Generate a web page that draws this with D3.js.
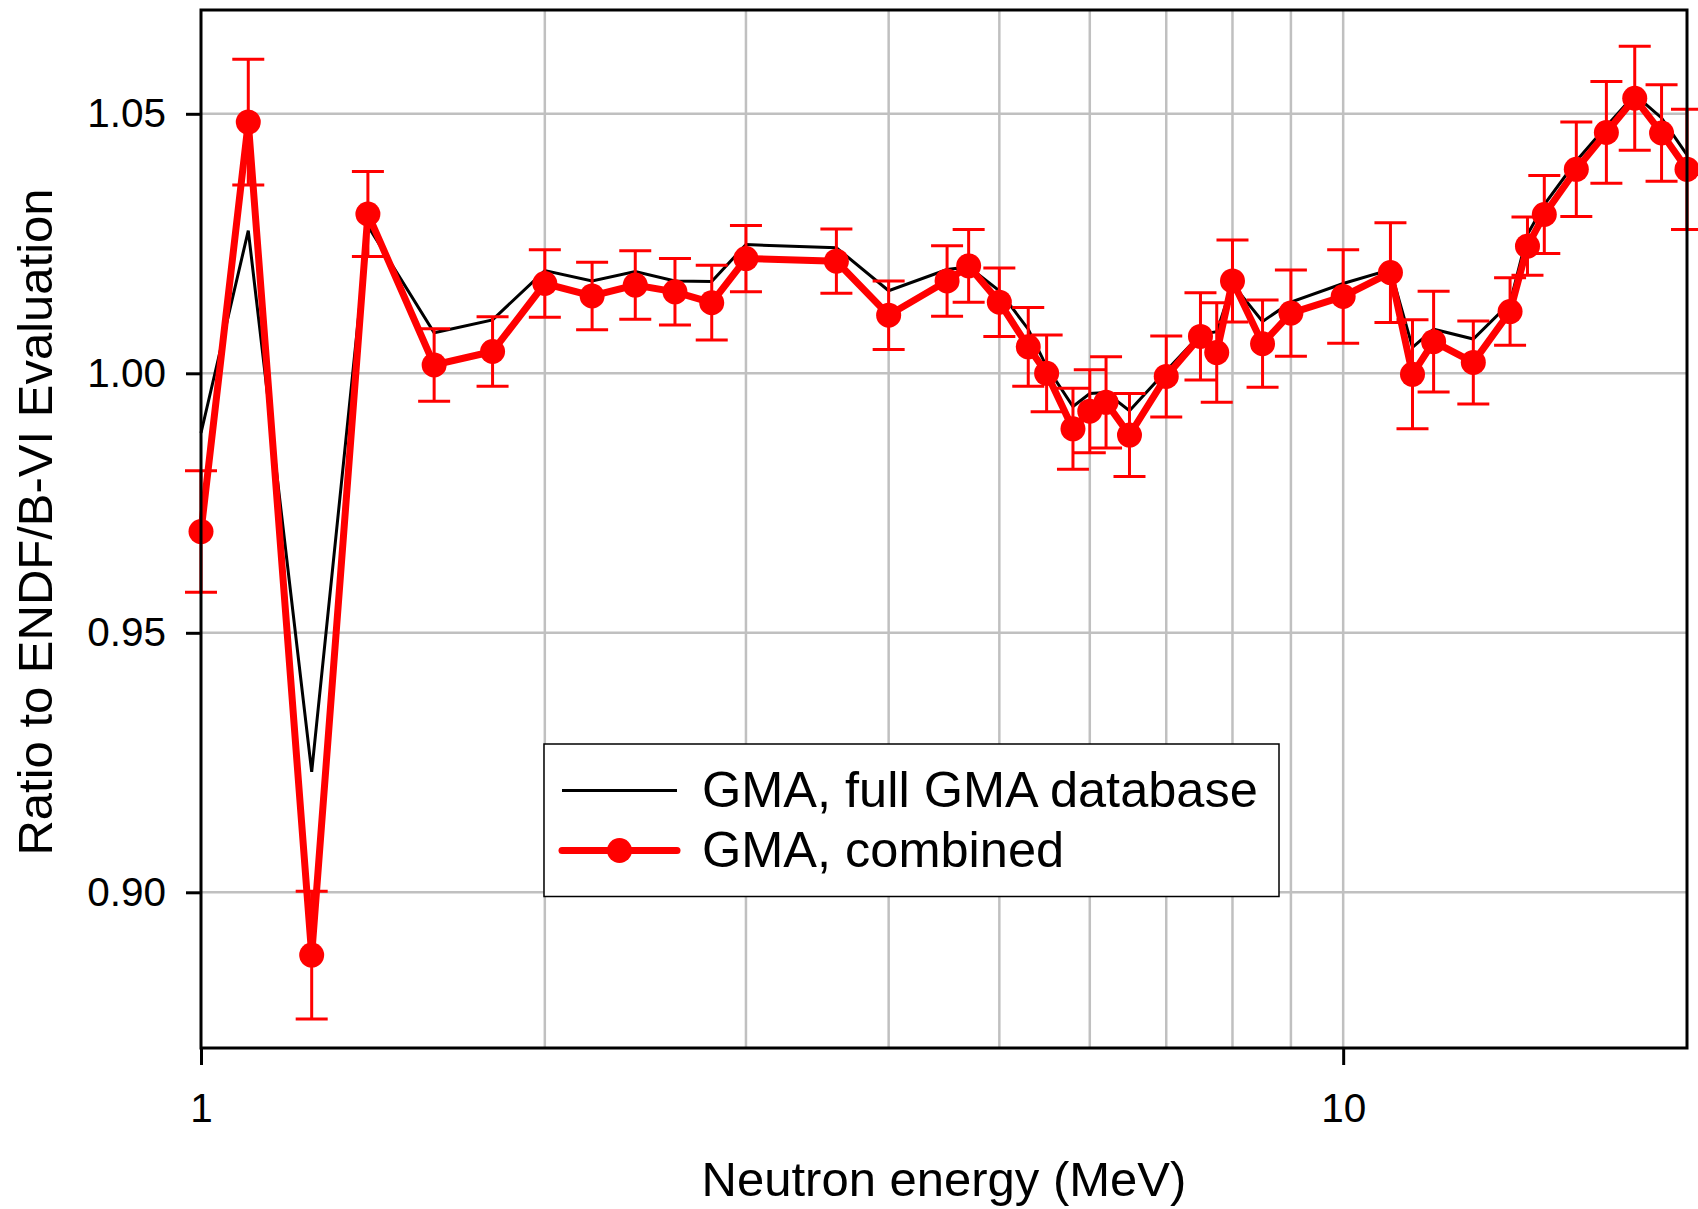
<!DOCTYPE html>
<html>
<head>
<meta charset="utf-8">
<script src="https://cdn.jsdelivr.net/npm/d3@7/dist/d3.min.js"></script>
<style>
  html, body { margin: 0; padding: 0; background: #fff; }
  svg { display: block; }
  text { font-family: "Liberation Sans", Arial, Helvetica, sans-serif; fill: #000; }
</style>
</head>
<body>
<svg id="chart" width="1698" height="1209"></svg>
<script>
// ---- data ----
const energies = [1.0, 1.1, 1.25, 1.4, 1.6, 1.8, 2.0, 2.2, 2.4, 2.6, 2.8, 3.0, 3.6, 4.0, 4.5, 4.7, 5.0,
  5.3, 5.5, 5.8, 6.0, 6.2, 6.5, 7.0, 7.5, 7.75, 8.0, 8.5, 9.0, 10.0, 11.0, 11.5, 12.0, 13.0, 14.0,
  14.5, 15.0, 16.0, 17.0, 18.0, 19.0, 20.0];

const fullGMA = [0.9885, 1.0275, 0.9232, 1.0284, 1.0078, 1.0103, 1.0198, 1.0178, 1.0196, 1.0178, 1.0177,
  1.0248, 1.0242, 1.0159, 1.0200, 1.0205, 1.0159, 1.0085, 1.0013, 0.9936, 0.9961, 0.9963, 0.9928,
  1.0005, 1.0075, 1.0080, 1.0172, 1.0100, 1.0137, 1.0173, 1.0200, 1.0050, 1.0085, 1.0066, 1.0136,
  1.0268, 1.0325, 1.0409, 1.0476, 1.0537, 1.0492, 1.0421];

const combined = [0.9695, 1.0484, 0.8879, 1.0307, 1.0016, 1.0042, 1.0173, 1.0149, 1.0170, 1.0157, 1.0136,
  1.0221, 1.0216, 1.0112, 1.0178, 1.0207, 1.0137, 1.0051, 1.0000, 0.9893, 0.9927, 0.9944, 0.9881,
  0.9994, 1.0071, 1.0040, 1.0178, 1.0057, 1.0116, 1.0148, 1.0194, 0.9998, 1.0061, 1.0021, 1.0119,
  1.0245, 1.0306, 1.0393, 1.0464, 1.0530, 1.0463, 1.0393];

const combinedErr = [0.0117, 0.0121, 0.0123, 0.0082, 0.0070, 0.0067, 0.0065, 0.0065, 0.0066, 0.0064, 0.0072,
  0.0064, 0.0062, 0.0066, 0.0068, 0.0070, 0.0066, 0.0076, 0.0074, 0.0078, 0.0080, 0.0088, 0.0080,
  0.0078, 0.0084, 0.0096, 0.0079, 0.0084, 0.0083, 0.0090, 0.0096, 0.0105, 0.0097, 0.0080, 0.0065,
  0.0056, 0.0075, 0.0091, 0.0098, 0.0100, 0.0093, 0.0116];

const xTickValues = [1, 10];
const xGridValues = [2, 3, 4, 5, 6, 7, 8, 9, 10];
const yTickValues = [0.90, 0.95, 1.00, 1.05];
const xDomain = [1, 20];
const yDomain = [0.87, 1.07];

const xTitle = "Neutron energy (MeV)";
const yTitle = "Ratio to ENDF/B-VI Evaluation";
const seriesNames = ["GMA, full GMA database", "GMA, combined"];

// ---- layout ----
const svg = d3.select("#chart");
const M = { left: 201, top: 10, right: 1698 - 1687, bottom: 1209 - 1048 };
const W = 1698 - M.left - M.right;
const H = 1209 - M.top - M.bottom;

svg.append("rect").attr("width", 1698).attr("height", 1209).attr("fill", "#fff");

const x = d3.scaleLog().domain(xDomain).range([0, W]);
const y = d3.scaleLinear().domain(yDomain).range([H, 0]);

const g = svg.append("g").attr("transform", `translate(${M.left},${M.top})`);

// grid
const grid = g.append("g");
grid.selectAll("line.vg").data(xGridValues).join("line")
  .attr("x1", d => x(d)).attr("x2", d => x(d))
  .attr("y1", 0).attr("y2", H)
  .attr("stroke", "#c0c0c0").attr("stroke-width", 2.5);
grid.selectAll("line.hg").data(yTickValues).join("line")
  .attr("x1", 0).attr("x2", W)
  .attr("y1", d => y(d)).attr("y2", d => y(d))
  .attr("stroke", "#c0c0c0").attr("stroke-width", 2.5);

const data = energies.map((e, i) => ({ e, full: fullGMA[i], c: combined[i], err: combinedErr[i] }));

// black line
g.append("path").datum(data)
  .attr("fill", "none").attr("stroke", "#000").attr("stroke-width", 3)
  .attr("stroke-linejoin", "miter")
  .attr("d", d3.line().x(d => x(d.e)).y(d => y(d.full)));

// error bars
const eb = g.append("g").attr("stroke", "#ff0000").attr("stroke-width", 3).attr("fill", "none");
const cap = 16;
eb.selectAll("path").data(data).join("path")
  .attr("d", d => {
    const cx = x(d.e), t = y(d.c + d.err), b = y(d.c - d.err);
    return `M${cx},${t}V${b}M${cx - cap},${t}H${cx + cap}M${cx - cap},${b}H${cx + cap}`;
  });

// red line
g.append("path").datum(data)
  .attr("fill", "none").attr("stroke", "#ff0000").attr("stroke-width", 7)
  .attr("stroke-linejoin", "miter")
  .attr("d", d3.line().x(d => x(d.e)).y(d => y(d.c)));

// markers
g.selectAll("circle.m").data(data).join("circle")
  .attr("cx", d => x(d.e)).attr("cy", d => y(d.c)).attr("r", 12.5)
  .attr("fill", "#ff0000");

// axes
const yAxis = d3.axisLeft(y).tickValues(yTickValues).tickFormat(d3.format(".2f"))
  .tickSize(15).tickPadding(20);
const ya = g.append("g").call(yAxis);
ya.select(".domain").remove();
ya.selectAll(".tick line").attr("stroke", "#000").attr("stroke-width", 3);
ya.selectAll(".tick text").attr("font-size", 40.5).attr("fill", "#000")
  .style("font-family", '"Liberation Sans", Arial, sans-serif');

const xAxis = d3.axisBottom(x).tickValues(xTickValues).tickFormat(d3.format("d"))
  .tickSize(17).tickPadding(28);
const xa = g.append("g").attr("transform", `translate(0,${H})`).call(xAxis);
xa.select(".domain").remove();
xa.selectAll(".tick line").attr("stroke", "#000").attr("stroke-width", 3);
xa.selectAll(".tick text").attr("font-size", 40.5).attr("fill", "#000")
  .style("font-family", '"Liberation Sans", Arial, sans-serif');

// frame
g.append("rect").attr("x", 0).attr("y", 0).attr("width", W).attr("height", H)
  .attr("fill", "none").attr("stroke", "#000").attr("stroke-width", 3);

// titles
svg.append("text").attr("x", M.left + W / 2).attr("y", 1196)
  .attr("text-anchor", "middle").attr("font-size", 49).text(xTitle);
svg.append("text").attr("transform", `translate(52,522) rotate(-90)`)
  .attr("text-anchor", "middle").attr("font-size", 49).text(yTitle);

// legend
const lg = svg.append("g");
lg.append("rect").attr("x", 544).attr("y", 744).attr("width", 735).attr("height", 152.5)
  .attr("fill", "#fff").attr("stroke", "#000").attr("stroke-width", 1.5);
lg.append("line").attr("x1", 562).attr("x2", 677).attr("y1", 790.5).attr("y2", 790.5)
  .attr("stroke", "#000").attr("stroke-width", 3);
lg.append("line").attr("x1", 562).attr("x2", 677).attr("y1", 850.5).attr("y2", 850.5)
  .attr("stroke", "#ff0000").attr("stroke-width", 7).attr("stroke-linecap", "round");
lg.append("circle").attr("cx", 619.5).attr("cy", 850.5).attr("r", 12.5).attr("fill", "#ff0000");
lg.selectAll("text").data(seriesNames).join("text")
  .attr("x", 702).attr("y", (d, i) => 806.5 + i * 60)
  .attr("font-size", 50.5).text(d => d);
</script>
</body>
</html>
